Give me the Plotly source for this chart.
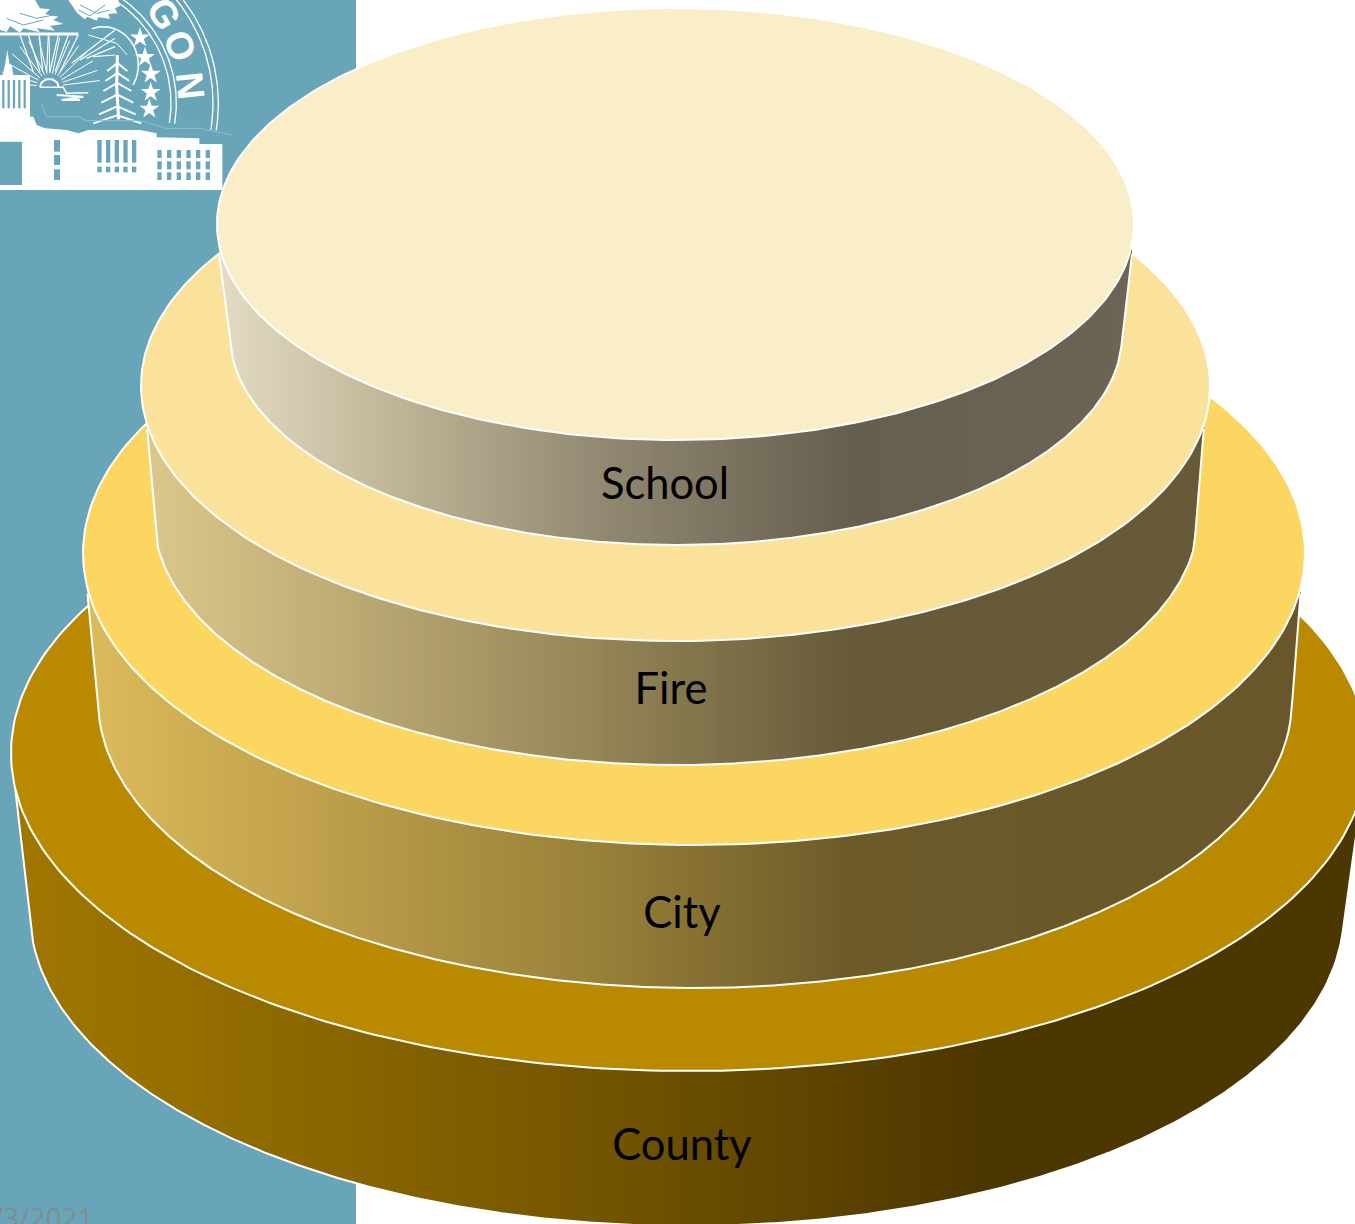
import numpy as np
import plotly.graph_objects as go

W, H = 1355, 1224

# Tiers, drawn bottom to top
tier_names = ["County", "City", "Fire", "School"]
label_x = [682, 682, 671, 665]
label_y = [1149, 917, 693, 488]
top_colors = ["#B98A00", "#FBD762", "#FBE29A", "#FAEEC9"]

# Upper disc of each tier
top_cx = [689, 694, 675.5, 675.5]
top_cy = [753, 553, 386, 224]
top_rx = [678, 611, 534.5, 458.5]
top_ry = [318, 292, 255, 216]
# Lower rim of each tier
base_cx = [687, 695, 676, 676]
base_cy = [912, 700, 517, 335]
base_rx = [657, 597, 522, 446]
base_ry = [314, 288, 248, 210]
# Angles where the side wall leaves the upper disc and joins the lower rim
edge_angle = [0.11, 0.14, 0.17, 0.14]
base_angle = [0.04, 0.05, 0.12, 0.05]
edge_out = [0, 1.5, 1.5, 2.5]

# Side wall shading: left-to-right colour stops
wall_x = [
    [10, 300, 600, 980, 1365],
    [85, 300, 600, 850, 1305],
    [145, 400, 600, 850, 1210],
    [218, 400, 600, 850, 1135],
]
wall_rgb = [
    [(160, 119, 0), (140, 104, 0), (115, 85, 0), (77, 55, 0), (77, 55, 0)],
    [(219, 187, 90), (194, 162, 76), (151, 128, 57), (109, 90, 41), (105, 86, 42)],
    [(220, 200, 139), (181, 163, 111), (148, 133, 87), (103, 90, 57), (103, 90, 57)],
    [(227, 220, 195), (190, 180, 150), (145, 137, 114), (102, 95, 78), (108, 100, 84)],
]

PANEL = "#69A5B9"
STRIP = 4


def disc(cx, cy, rx, ry, n=360):
    t = np.linspace(0, 2 * np.pi, n)
    return cx + rx * np.cos(t), cy + ry * np.sin(t)


def rgb_at(x, xs, cols):
    c = [np.interp(x, xs, [k[i] for k in cols]) for i in range(3)]
    return "rgb(%d,%d,%d)" % tuple(int(round(v)) for v in c)


def poly(fig, x, y, color):
    fig.add_trace(go.Scatter(x=x, y=y, mode="lines", fill="toself", fillcolor=color,
                             line=dict(width=0), hoverinfo="skip", showlegend=False))


def stroke(fig, x, y, color="white", width=2):
    fig.add_trace(go.Scatter(x=x, y=y, mode="lines", line=dict(color=color, width=width),
                             hoverinfo="skip", showlegend=False))


def wall_bounds(i):
    """Outline functions for the visible side wall of tier i."""
    a = edge_angle[i]
    b = base_angle[i]
    half_top = top_rx[i] * np.cos(a) + edge_out[i]
    xl_top = top_cx[i] - half_top
    xr_top = top_cx[i] + half_top
    y_top = top_cy[i] + top_ry[i] * np.sin(a)
    half_base = base_rx[i] * np.cos(b)
    xl_base = base_cx[i] - half_base
    xr_base = base_cx[i] + half_base
    y_base = base_cy[i] + base_ry[i] * np.sin(b)

    def lower(x):
        x = np.asarray(x, float)
        q = np.clip((x - base_cx[i]) / base_rx[i], -1, 1)
        y = base_cy[i] + base_ry[i] * np.sqrt(1 - q ** 2)
        y = np.where(x < xl_base, np.interp(x, [xl_top, xl_base], [y_top, y_base]), y)
        y = np.where(x > xr_base, np.interp(x, [xr_base, xr_top], [y_base, y_top]), y)
        return y

    def upper(x):
        x = np.asarray(x, float)
        q = np.clip((x - top_cx[i]) / top_rx[i], -1, 1)
        return top_cy[i] + top_ry[i] * np.sqrt(1 - q ** 2) - 4

    return xl_top, xr_top, lower, upper


fig = go.Figure()

# Side panel behind the tiers
poly(fig, [0, 356, 356, 0, 0], [0, 0, H, H, 0], PANEL)


# Seal in the panel, sketched in a 3x grid
def s(seq):
    return [None if v is None else v / 3 for v in seq]


def blob(xs, ys, color="white"):
    poly(fig, s(xs), s(ys), color)


def line3(xs, ys, width=1.5, color="white"):
    stroke(fig, s(xs), s(ys), color, width)


# Seal rings
for radius, w in [(510, 1.3), (494, 1.3), (384, 1.3), (368, 1.3)]:
    ang = np.linspace(-1.13, 0.16, 60)
    line3(list(145 + radius * np.cos(ang)), list(310 + radius * np.sin(ang)), w)

# Sun rays and the hill arch
for deg in range(-175, -5, 12):
    r = np.radians(deg)
    line3([150 + 40 * np.cos(r), 150 + 150 * np.cos(r)],
          [260 + 40 * np.sin(r), 260 + 150 * np.sin(r)], 1)
for x0, x1 in [(60, 100), (85, 120), (118, 128), (145, 140), (175, 150), (205, 165), (235, 180)]:
    line3([x0, x1], [105, 215], 1.2)
for y0, x1, y1 in [(90, 215, 190), (115, 240, 180), (140, 260, 175), (165, 280, 170)]:
    line3([345, x1], [y0, y1], 1.2)
ang = np.linspace(-1.9, 0.55, 40)
line3(list(310 + 105 * np.cos(ang)), list(195 + 115 * np.sin(ang)), 1.5)
line3([265, 350, 382], [105, 130, 165], 1)
ang = np.linspace(np.pi, 2 * np.pi, 20)
line3(list(148 + 28 * np.cos(ang)), list(262 + 25 * np.sin(ang)), 2)
line3([120, 190, 200, 265], [262, 262, 280, 278], 1.5)
line3([170, 250, 185, 240], [285, 290, 300, 300], 2)

# Conifer
line3([352, 350, 356], [165, 260, 358], 3)
for yb, half in [(195, 30), (225, 36), (255, 42), (290, 48), (325, 55), (352, 72)]:
    line3([352 - half, 352, 352 + half], [yb + 18, yb - 6, yb + 18], 2)

# Eagle wings with feathered edges
blob([0, 105, 120, 150, 135, 175, 160, 190, 150, 165, 110, 120, 70, 60, 30, 20, 0, 0],
     [0, 0, 25, 28, 42, 50, 60, 72, 78, 92, 85, 97, 85, 98, 78, 96, 90, 0])
blob([205, 355, 360, 345, 352, 325, 330, 295, 290, 262, 255, 232, 205],
     [0, 0, 18, 25, 40, 42, 56, 52, 62, 50, 58, 40, 0])
line3([0, 100, 235], [102, 102, 102], 3)
line3([20, 70, 130], [55, 75, 60], 1, PANEL)
line3([240, 290, 330], [15, 40, 30], 1, PANEL)
line3([60, 110, 160], [40, 55, 45], 1, PANEL)
line3([235, 270, 315], [30, 48, 15], 1, PANEL)

# Capitol: dome, colonnade and building silhouette
blob([8, 16, 22, 28, 36, 40, 90, 90, 100, 110, 135, 200, 235, 265, 420, 470, 470, 598, 598, 667, 667, 0, 0, 8],
     [225, 190, 150, 190, 200, 225, 225, 350, 350, 375, 385, 390, 400, 390, 390, 400, 412, 415, 432, 432, 570, 570, 225, 225])
for xc in [10, 26, 42, 58, 74]:
    line3([xc, xc], [240, 325], 2.2, PANEL)
blob([0, 66, 66, 0, 0], [425, 425, 555, 555, 425], PANEL)
for y0, y1 in [(420, 455), (465, 495), (508, 540)]:
    blob([162, 180, 180, 162, 162], [y0, y0, y1, y1, y0], PANEL)
for k in range(5):
    x0 = 292 + 26 * k
    blob([x0, x0 + 13, x0 + 13, x0, x0], [420, 420, 488, 488, 420], PANEL)
    blob([x0, x0 + 13, x0 + 13, x0, x0], [500, 500, 517, 517, 500], PANEL)
for k in range(6):
    x0 = 472 + 29 * k
    for y0, y1 in [(450, 474), (484, 508), (517, 540)]:
        blob([x0, x0 + 13, x0 + 13, x0, x0], [y0, y0, y1, y1, y0], PANEL)
line3([125, 140, 235, 260, 420, 500, 600, 695], [310, 350, 350, 362, 362, 385, 385, 405], 1, "#8FBDCB")

# Stars on the ring
star_x = [420, 435, 452, 452, 448]
star_y = [113, 172, 222, 277, 327]
fig.add_trace(go.Scatter(x=s(star_x), y=s(star_y), mode="markers",
                         marker=dict(symbol="star", size=15, color="white", line=dict(width=0)),
                         hoverinfo="skip", showlegend=False))

# The stacked discs
for i in range(4):
    xl_top, xr_top, lower, upper = wall_bounds(i)
    for x0 in np.arange(xl_top, xr_top, STRIP):
        x1 = min(x0 + STRIP + 1, xr_top)
        xs = [x0, x1, x1, x0, x0]
        ys = [float(upper(x0)), float(upper(x1)), float(lower(x1)), float(lower(x0)), float(upper(x0))]
        poly(fig, xs, ys, rgb_at(x0 + STRIP / 2, wall_x[i], wall_rgb[i]))
    # Rim outline of the wall
    rim_x = np.linspace(xl_top, xr_top, 600)
    stroke(fig, rim_x, lower(rim_x), "white", 2)
    dx, dy = disc(top_cx[i], top_cy[i], top_rx[i], top_ry[i])
    fig.add_trace(go.Scatter(x=dx, y=dy, mode="lines", fill="toself", fillcolor=top_colors[i],
                             line=dict(color="white", width=2), hoverinfo="skip", showlegend=False))

# Tier names
fig.add_trace(go.Scatter(x=label_x, y=label_y, text=tier_names, mode="text",
                         textfont=dict(family="Lato", size=43.5, color="#000000"),
                         hoverinfo="skip", showlegend=False))

# Seal lettering and the date in the panel corner
seal_letters = ["G", "O", "N"]
seal_x = [164, 180, 190]
seal_y = [14, 46, 85]
seal_rot = [60, 72, 84]
for ch, x, y, rot in zip(seal_letters, seal_x, seal_y, seal_rot):
    fig.add_annotation(x=x, y=y, text="<b>%s</b>" % ch, showarrow=False, textangle=rot,
                       font=dict(family="Liberation Sans", size=38, color="white"))
fig.add_annotation(x=96, y=1217, text="/3/2021", showarrow=False, xanchor="right",
                   font=dict(family="Open Sans", size=28, color="#7F8C92"))

fig.update_layout(
    width=W, height=H, margin=dict(l=0, r=0, t=0, b=0),
    paper_bgcolor="white", plot_bgcolor="white", showlegend=False,
    xaxis=dict(range=[0, W], visible=False, fixedrange=True),
    yaxis=dict(range=[H, 0], visible=False, fixedrange=True),
)

fig.write_html("out.html", config={"displayModeBar": False})
